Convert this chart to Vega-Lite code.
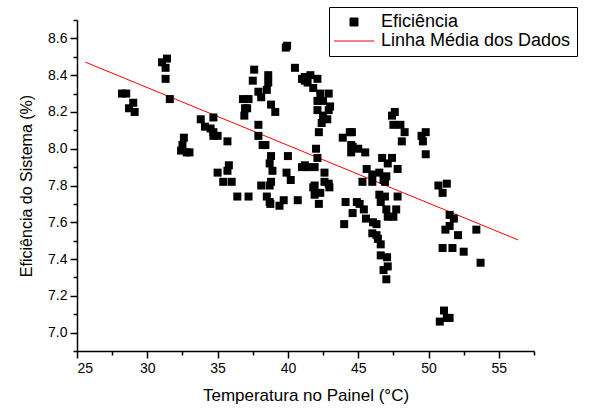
{
  "$schema": "https://vega.github.io/schema/vega-lite/v6.json",
  "autosize": {"type": "none"},
  "width": 457,
  "height": 331,
  "padding": {"left": 77, "top": 20, "right": 57, "bottom": 58},
  "background": "white",
  "config": {
    "view": {"stroke": null},
    "font": "Liberation Sans",
    "axis": {"domainColor": "black", "domainWidth": 1.5, "tickColor": "black", "tickWidth": 1.5, "labelColor": "black", "titleColor": "black", "grid": false, "labelFont": "Liberation Sans", "titleFont": "Liberation Sans", "labelFontSize": 14, "titleFontWeight": "normal"}
  },
  "datasets": {
    "pts": [
      {"t":28.2,"e":8.30},{"t":28.5,"e":8.30},{"t":29.0,"e":8.25},{"t":28.7,"e":8.22},{"t":29.1,"e":8.20},
      {"t":31.05,"e":8.47},{"t":31.4,"e":8.49},{"t":31.3,"e":8.44},{"t":31.3,"e":8.38},{"t":31.6,"e":8.27},
      {"t":32.6,"e":8.06},{"t":32.5,"e":8.02},{"t":32.4,"e":7.99},{"t":32.8,"e":7.98},{"t":33.0,"e":7.98},
      {"t":39.94,"e":8.56},{"t":39.85,"e":8.55},{"t":37.6,"e":8.43},{"t":37.5,"e":8.37},{"t":38.6,"e":8.40},
      {"t":38.6,"e":8.36},{"t":38.5,"e":8.32},{"t":37.9,"e":8.31},{"t":38.1,"e":8.28},{"t":36.8,"e":8.27},
      {"t":37.2,"e":8.27},{"t":36.95,"e":8.22},{"t":37.1,"e":8.22},{"t":36.9,"e":8.18},{"t":38.8,"e":8.24},
      {"t":39.1,"e":8.20},{"t":40.5,"e":8.44},{"t":41.2,"e":8.39},{"t":41.0,"e":8.38},{"t":41.4,"e":8.36},
      {"t":33.8,"e":8.16},{"t":34.7,"e":8.17},{"t":34.1,"e":8.12},{"t":34.5,"e":8.11},{"t":34.7,"e":8.09},
      {"t":34.7,"e":8.07},{"t":35.0,"e":8.07},{"t":35.7,"e":8.04},{"t":37.9,"e":8.13},{"t":37.9,"e":8.07},
      {"t":38.2,"e":8.02},{"t":38.4,"e":8.02},{"t":38.8,"e":7.96},{"t":38.7,"e":7.92},{"t":40.0,"e":7.96},
      {"t":35.8,"e":7.91},{"t":35.7,"e":7.88},{"t":35.0,"e":7.87},{"t":35.4,"e":7.82},{"t":36.0,"e":7.82},
      {"t":38.9,"e":7.88},{"t":38.8,"e":7.82},{"t":38.1,"e":7.80},{"t":38.7,"e":7.80},{"t":39.9,"e":7.87},
      {"t":40.2,"e":7.83},{"t":41.0,"e":7.90},{"t":41.35,"e":7.90},{"t":36.4,"e":7.74},{"t":37.2,"e":7.74},
      {"t":38.5,"e":7.74},{"t":38.7,"e":7.71},{"t":38.75,"e":7.70},{"t":39.7,"e":7.72},{"t":39.4,"e":7.69},
      {"t":40.7,"e":7.72},{"t":41.6,"e":8.40},{"t":42.1,"e":8.38},{"t":41.2,"e":8.37},{"t":41.8,"e":8.33},
      {"t":42.3,"e":8.30},{"t":42.9,"e":8.30},{"t":42.1,"e":8.26},{"t":42.5,"e":8.26},{"t":42.1,"e":8.21},
      {"t":42.9,"e":8.21},{"t":43.0,"e":8.23},{"t":42.5,"e":8.18},{"t":42.8,"e":8.16},{"t":42.4,"e":8.14},
      {"t":42.2,"e":8.09},{"t":47.6,"e":8.20},{"t":47.4,"e":8.18},{"t":47.5,"e":8.13},{"t":48.0,"e":8.13},
      {"t":48.3,"e":8.09},{"t":48.1,"e":8.04},{"t":44.4,"e":8.09},{"t":44.55,"e":8.09},{"t":43.9,"e":8.06},
      {"t":44.5,"e":8.02},{"t":44.6,"e":8.01},{"t":45.0,"e":8.00},{"t":45.5,"e":7.98},{"t":44.5,"e":7.98},
      {"t":42.0,"e":8.00},{"t":42.1,"e":7.95},{"t":41.2,"e":7.91},{"t":41.9,"e":7.90},{"t":42.6,"e":7.87},
      {"t":42.6,"e":7.82},{"t":41.9,"e":7.80},{"t":42.9,"e":7.81},{"t":46.7,"e":7.95},{"t":47.4,"e":7.95},
      {"t":47.1,"e":7.92},{"t":47.8,"e":7.89},{"t":45.6,"e":7.89},{"t":46.0,"e":7.86},{"t":46.5,"e":7.87},
      {"t":45.3,"e":7.82},{"t":46.0,"e":7.82},{"t":46.8,"e":7.83},{"t":47.0,"e":7.85},{"t":41.8,"e":7.79},
      {"t":42.95,"e":7.79},{"t":41.9,"e":7.75},{"t":42.3,"e":7.76},{"t":42.2,"e":7.70},{"t":46.9,"e":7.82},
      {"t":46.5,"e":7.75},{"t":46.9,"e":7.74},{"t":47.8,"e":7.74},{"t":46.6,"e":7.71},{"t":44.1,"e":7.71},
      {"t":44.9,"e":7.71},{"t":45.1,"e":7.70},{"t":45.4,"e":7.67},{"t":44.6,"e":7.65},{"t":47.0,"e":7.67},
      {"t":47.7,"e":7.67},{"t":47.1,"e":7.63},{"t":47.5,"e":7.63},{"t":45.55,"e":7.62},{"t":46.05,"e":7.60},
      {"t":46.3,"e":7.59},{"t":44.0,"e":7.59},{"t":46.0,"e":7.54},{"t":46.3,"e":7.53},{"t":46.4,"e":7.51},
      {"t":46.6,"e":7.48},{"t":46.6,"e":7.42},{"t":47.05,"e":7.41},{"t":47.1,"e":7.36},{"t":46.8,"e":7.34},
      {"t":47.0,"e":7.29},{"t":49.8,"e":8.09},{"t":49.5,"e":8.07},{"t":49.6,"e":8.04},{"t":49.8,"e":7.97},
      {"t":50.7,"e":7.80},{"t":51.3,"e":7.81},{"t":51.0,"e":7.76},{"t":51.5,"e":7.64},{"t":51.8,"e":7.62},
      {"t":51.5,"e":7.58},{"t":51.2,"e":7.56},{"t":52.1,"e":7.53},{"t":53.4,"e":7.56},{"t":51.0,"e":7.46},
      {"t":51.7,"e":7.46},{"t":52.5,"e":7.44},{"t":53.7,"e":7.38},{"t":51.1,"e":7.12},{"t":51.3,"e":7.08},
      {"t":50.8,"e":7.06},{"t":51.5,"e":7.08}
    ],
    "fit": [
      {"t":25.59,"e":8.471},{"t":56.37,"e":7.504}
    ]
  },
  "encoding": {
    "x": {
      "field": "t", "type": "quantitative",
      "scale": {"domain": [25, 57.5], "nice": false, "zero": false},
      "axis": {
        "title": "Temperatura no Painel (°C)", "titleFontSize": 17, "titlePadding": 12,
        "values": [25,27.5,30,32.5,35,37.5,40,42.5,45,47.5,50,52.5,55,57.5],
        "labelExpr": "datum.value % 5 === 0 ? format(datum.value, 'd') : ''",
        "tickSize": {"condition": {"test": "datum.value % 5 !== 0", "value": 4}, "value": 7},
        "labelPadding": 3
      }
    },
    "y": {
      "field": "e", "type": "quantitative",
      "scale": {"domain": [6.9, 8.7], "nice": false, "zero": false},
      "axis": {
        "title": "Eficiência do Sistema (%)", "titleFontSize": 16, "titlePadding": 13,
        "values": [6.9,7.0,7.1,7.2,7.3,7.4,7.5,7.6,7.7,7.8,7.9,8.0,8.1,8.2,8.3,8.4,8.5,8.6,8.7],
        "labelExpr": "round(datum.value*10) % 2 === 0 ? format(datum.value, '.1f') : ''",
        "tickSize": {"condition": {"test": "round(datum.value*10) % 2 !== 0", "value": 4}, "value": 7},
        "labelPadding": 3
      }
    },
    "color": {
      "field": "s", "type": "nominal",
      "scale": {"domain": ["Eficiência", "Linha Média dos Dados"], "range": ["black", "red"]},
      "legend": {
        "title": null, "orient": "none", "legendX": 252, "legendY": -13,
        "strokeColor": "black", "fillColor": "white", "padding": 6,
        "labelFontSize": 18, "labelFont": "Liberation Sans", "labelColor": "black", "labelLimit": 0,
        "symbolSize": 64, "symbolOffset": 10, "labelOffset": 18, "rowPadding": 1,
        "encode": {
          "symbols": {"update": {
            "shape": {"signal": "datum.value === 'Eficiência' ? 'square' : 'M-5,0H5'"},
            "size": {"value": 64},
            "fill": {"signal": "datum.value === 'Eficiência' ? 'black' : 'transparent'"},
            "stroke": {"signal": "datum.value === 'Eficiência' ? 'transparent' : 'red'"},
            "strokeWidth": {"value": 1},
            "opacity": {"value": 1}
          }}
        }
      }
    }
  },
  "layer": [
    {
      "data": {"name": "fit"},
      "transform": [{"calculate": "'Linha Média dos Dados'", "as": "s"}],
      "mark": {"type": "line", "strokeWidth": 1, "color": "red"}
    },
    {
      "data": {"name": "pts"},
      "transform": [{"calculate": "'Eficiência'", "as": "s"}],
      "mark": {"type": "point", "shape": "square", "filled": true, "size": 64, "opacity": 1}
    }
  ]
}
